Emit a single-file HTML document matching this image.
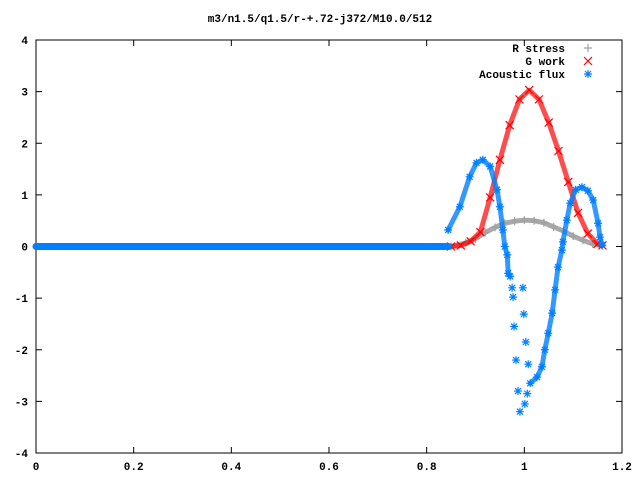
<!DOCTYPE html>
<html><head><meta charset="utf-8"><style>
body{margin:0;background:#fff}
svg text{font-family:"Liberation Mono",monospace;font-size:11px;fill:#000;font-weight:bold}
</style></head><body>
<svg id="chart" width="640" height="480" xmlns="http://www.w3.org/2000/svg">
<rect width="640" height="480" fill="#fff"/>
<text x="320" y="22" text-anchor="middle">m3/n1.5/q1.5/r-+.72-j372/M10.0/512</text>
<g id="axes"></g>
<g id="series"></g>
<g id="legend"></g>
</svg>
<script>
const xTicks=[0,0.2,0.4,0.6,0.8,1,1.2];
const xTickLabels=["0","0.2","0.4","0.6","0.8","1","1.2"];
const yTicks=[-4,-3,-2,-1,0,1,2,3,4];
const yTickLabels=["-4","-3","-2","-1","0","1","2","3","4"];
const stressX=[0.85,0.88,0.9,0.92,0.94,0.96,0.98,1.0,1.02,1.04,1.06,1.08,1.1,1.12,1.14,1.16];
const stressY=[0.0,0.07,0.15,0.27,0.37,0.45,0.49,0.51,0.5,0.46,0.38,0.3,0.2,0.12,0.05,0.01];
const workX=[0.85,0.87,0.89,0.91,0.93,0.95,0.97,0.99,1.01,1.03,1.05,1.07,1.09,1.11,1.13,1.15,1.16];
const workY=[0,0.02,0.1,0.28,0.95,1.68,2.35,2.85,3.03,2.85,2.4,1.85,1.25,0.65,0.25,0.05,0.02];
const fluxFlatX=[0,0.845];
const fluxFlatY=[0,0];
const fluxX=[0.844,0.868,0.888,0.902,0.915,0.93,0.944,0.95,0.956,0.96,0.965,0.967,0.971,0.975,0.977,0.979,0.983,0.987,0.991,0.997,0.999,1.003,1.008,1.006,1.001,1.012,1.026,1.036,1.042,1.049,1.057,1.063,1.069,1.077,1.079,1.087,1.094,1.105,1.118,1.13,1.141,1.151,1.155,1.159];
const fluxY=[0.32,0.77,1.35,1.62,1.68,1.55,1.1,0.77,0.32,0,-0.16,-0.52,-0.58,-0.8,-0.98,-1.55,-2.2,-2.8,-3.2,-0.8,-1.31,-1.85,-2.28,-2.85,-3.05,-2.65,-2.53,-2.33,-2.0,-1.68,-1.29,-0.84,-0.4,-0.07,0.09,0.51,0.84,1.1,1.15,1.08,0.9,0.45,0.18,0.03];
const fluxLineIdx=[[0,1,2,3,4,5,6,7,8,9,10,11,12],[25,26,27,28,29,30,31,32,33,34,35,36,37,38,39,40,41,42,43]];

const X0=36,X1=622,Y0=453,Y1=40;
const sx=v=>X0+(v-0)/(1.2-0)*(X1-X0);
const sy=v=>Y0-(v+4)/8*(Y0-Y1);
const NS="http://www.w3.org/2000/svg";
function mk(tag,attrs,parent){const e=document.createElementNS(NS,tag);for(const k in attrs)e.setAttribute(k,attrs[k]);parent.appendChild(e);return e;}
const axes=document.getElementById('axes'),ser=document.getElementById('series'),leg=document.getElementById('legend');
const frame=mk('rect',{x:X0,y:Y1,width:X1-X0,height:Y0-Y1,fill:'none',stroke:'#000','stroke-width':1},axes);


xTicks.forEach((t,i)=>{const x=sx(t);
 mk('line',{x1:x,y1:Y0,x2:x,y2:Y0-6,stroke:'#000'},axes);
 mk('line',{x1:x,y1:Y1,x2:x,y2:Y1+6,stroke:'#000'},axes);
 const tx=mk('text',{x:x,y:470,'text-anchor':'middle'},axes);tx.textContent=xTickLabels[i];
 
 });
yTicks.forEach((t,i)=>{const y=sy(t);
 mk('line',{x1:X0,y1:y,x2:X0+6,y2:y,stroke:'#000'},axes);
 mk('line',{x1:X1,y1:y,x2:X1-6,y2:y,stroke:'#000'},axes);
 const tx=mk('text',{x:28,y:y+4,'text-anchor':'end'},axes);tx.textContent=yTickLabels[i];
 
 });
function plus(x,y,c,g){mk('path',{d:`M${x-4} ${y}H${x+4}M${x} ${y-4}V${y+4}`,stroke:c,'stroke-width':1.2,fill:'none'},g);}
function cross(x,y,c,g){mk('path',{d:`M${x-4} ${y-4}L${x+4} ${y+4}M${x-4} ${y+4}L${x+4} ${y-4}`,stroke:c,'stroke-width':1.2,fill:'none'},g);}
function star(x,y,c,g){mk('path',{d:`M${x-4} ${y}H${x+4}M${x} ${y-4}V${y+4}M${x-3} ${y-3}L${x+3} ${y+3}M${x-3} ${y+3}L${x+3} ${y-3}`,stroke:c,'stroke-width':1.2,fill:'none'},g);}
function poly(xs,ys,c,w,g,op,dash){const p=mk('polyline',{points:xs.map((v,i)=>sx(v)+','+sy(ys[i])).join(' '),fill:'none',stroke:c,'stroke-width':w,'stroke-linejoin':'round','stroke-linecap':'round','stroke-opacity':op},g);if(dash)p.setAttribute('stroke-dasharray',dash);return p;}
const gS=mk('g',{},ser);
poly(stressX,stressY,'#a0a0a0',5,gS,0.9,'2 1');stressX.forEach((v,i)=>plus(sx(v),sy(stressY[i]),'#a0a0a0',gS));
const gW=mk('g',{},ser);
poly(workX,workY,'#ff0000',5,gW,0.7,'2 1');workX.forEach((v,i)=>cross(sx(v),sy(workY[i]),'#ff0000',gW));
const gF=mk('g',{},ser);
poly(fluxFlatX,fluxFlatY,'#0080ff',7,gF,1,null);
fluxLineIdx.forEach(idx=>poly(idx.map(i=>fluxX[i]),idx.map(i=>fluxY[i]),'#0080ff',5,gF,0.8,'3 1'));
fluxX.forEach((v,i)=>star(sx(v),sy(fluxY[i]),'#0080ff',gF));
const items=[["R stress",'#a0a0a0',plus,'legend-r-stress'],["G work",'#ff0000',cross,'legend-g-work'],["Acoustic flux",'#0080ff',star,'legend-acoustic-flux']];
items.forEach((it,i)=>{const y=48+i*13;const g=mk('g',{},leg);
 
 
 const t=mk('text',{x:565,y:y+4,'text-anchor':'end'},g);t.textContent=it[0];it[2](588,y,it[1],g);});
</script>
</body></html>
